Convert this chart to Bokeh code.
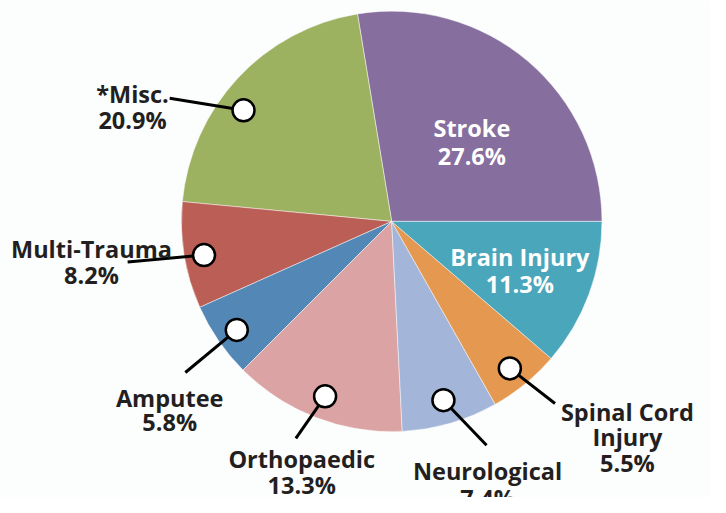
import numpy as np
from bokeh.plotting import figure
from bokeh.models import Range1d, ColumnDataSource
from bokeh.core.properties import value
from bokeh.embed import file_html
from bokeh.resources import INLINE

# ---- data (counter-clockwise from 3 o'clock) ----
categories = ["Stroke", "*Misc.", "Multi-Trauma", "Amputee", "Orthopaedic",
              "Neurological", "Spinal Cord Injury", "Brain Injury"]
percent = [27.6, 20.9, 8.2, 5.8, 13.3, 7.4, 5.5, 11.3]
name_lines = [["Stroke"], ["*Misc."], ["Multi-Trauma"], ["Amputee"], ["Orthopaedic"],
              ["Neurological"], ["Spinal Cord", "Injury"], ["Brain Injury"]]

# ---- styles / layout ----
colors = ["#866e9e", "#9db260", "#bb5e55", "#5287b6", "#dba3a3",
          "#a3b6d9", "#e5984f", "#4aa6bb"]
CX, CY, R = 400, 228, 215            # pie centre / radius in reference pixels
FONT = "Open Sans"
FS = "23.5px"
DARK = "#231f20"
# per label: text centre x, first baseline y, line pitch, text colour,
#            leader (angle nudge deg, anchor radius, leader end x, y) or None
label_layout = {
    "Stroke":             (482, 132, 28, "white", None),
    "Brain Injury":       (531, 265, 28, "white", None),
    "*Misc.":             (135, 96, 27, DARK, (5.9, 190, 173, 101)),
    "Multi-Trauma":       (93, 256, 27, DARK, (0.9, 195, 130, 270)),
    "Amputee":            (173, 410, 25, DARK, (0.7, 194, 189, 384)),
    "Orthopaedic":        (308, 473, 27, DARK, (0.4, 193, 302, 452)),
    "Neurological":       (498, 486, 27, DARK, (-0.2, 192, 497, 459)),
    "Spinal Cord Injury": (641, 425, 26, DARK, (-0.9, 194, 567, 416)),
}

W, H = 710, 497
p = figure(width=W, height=H, output_backend="svg", toolbar_location=None,
           x_range=Range1d(0, 726), y_range=Range1d(-513, 0),
           min_border=0, match_aspect=False)
p.axis.visible = False
p.grid.visible = False
p.outline_line_color = None
p.background_fill_color = "#fcfdfd"
p.border_fill_color = "#fcfdfd"

frac = np.array(percent) / 100.0
ends = np.cumsum(frac) * 2 * np.pi
starts = ends - frac * 2 * np.pi
src = ColumnDataSource(dict(cat=categories, start=starts, end=ends, color=colors))
p.wedge(x=CX, y=-CY, radius=R, start_angle="start", end_angle="end",
        fill_color="color", line_color="white", line_width=0.8, line_alpha=0.6,
        source=src)

lx0, ly0, lx1, ly1, ax, ay = [], [], [], [], [], []
tx, ty, tt, tc = [], [], [], []
for cat, pct, names, s, e in zip(categories, percent, name_lines, starts, ends):
    cx, base, pitch, col, lead = label_layout[cat]
    lines = names + [f"{pct:.1f}%"]
    for i, ln in enumerate(lines):
        tx.append(cx); ty.append(-(base + i * pitch)); tt.append(ln); tc.append(col)
    if lead is not None:
        nudge, rr, ex, ey = lead
        a = (s + e) / 2 + np.deg2rad(nudge)
        px, py = CX + rr * np.cos(a), CY - rr * np.sin(a)
        lx0.append(px); ly0.append(-py); lx1.append(ex); ly1.append(-ey)
        ax.append(px); ay.append(-py)

p.segment(x0=lx0, y0=ly0, x1=lx1, y1=ly1, line_color="black", line_width=3)
p.scatter(x=ax, y=ay, size=22, marker="circle", fill_color="white",
          line_color="black", line_width=2.5)
p.text(x=tx, y=ty, text=tt, text_color=tc, text_font=value(FONT),
       text_font_style="bold", text_font_size=FS, text_align="center",
       text_baseline="alphabetic")

open("out.html", "w").write(file_html(p, INLINE))
